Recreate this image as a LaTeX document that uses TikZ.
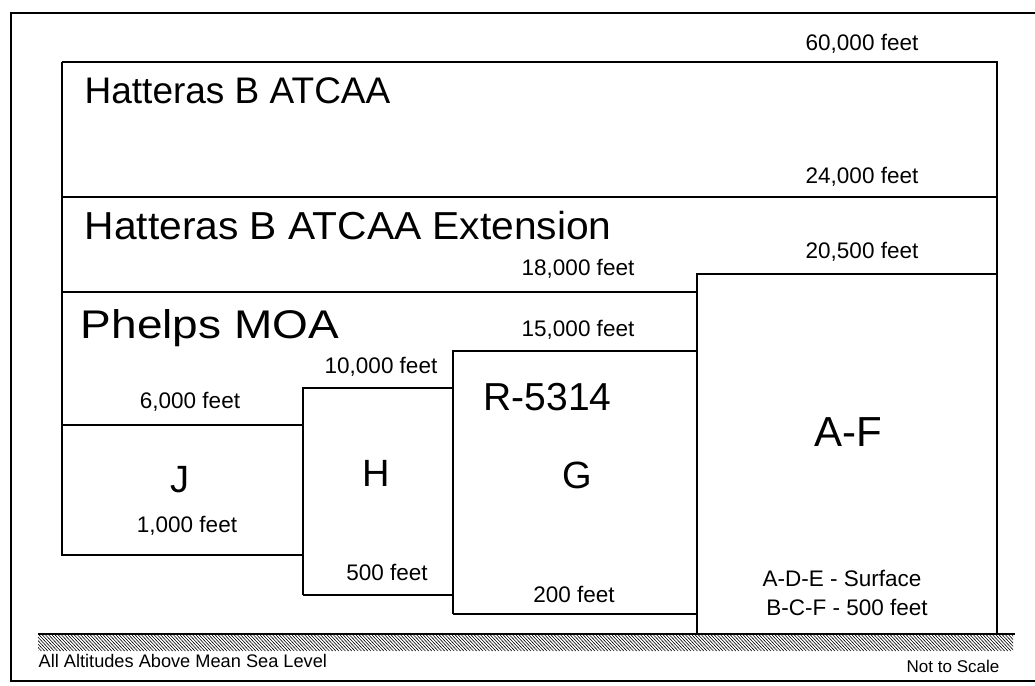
\documentclass[tikz,border=0pt]{standalone}
\usepackage{fontspec}
\setmainfont{Liberation Sans}
\begin{document}
\begin{tikzpicture}[x=1pt,y=-1pt, line width=1.3pt,
  big/.style={font=\fontsize{37}{40}\selectfont, inner sep=0pt, anchor=base west},
  mid/.style={font=\fontsize{38}{40}\selectfont, inner sep=0pt, anchor=base},
  ft/.style={font=\fontsize{22.5}{24}\selectfont, inner sep=0pt, anchor=base},
  note/.style={font=\fontsize{17}{19}\selectfont, inner sep=0pt}]
\useasboundingbox (0,0) rectangle (1035,685);
% outer frame
\draw[line width=1.2pt] (1035,13) -- (11,13) -- (11,681) -- (1035,681);
% airspace outlines
\draw (62,62) -- (997,62) -- (997,634);
\draw (62,62) -- (62,555) -- (303,555);
\draw (62,197) -- (997,197);
\draw (62,292) -- (697,292);
\draw (697,634) -- (697,274) -- (997,274);
\draw (62,425) -- (303,425);
\draw (303,595) -- (303,388) -- (453,388);
\draw (303,595) -- (453,595);
\draw (453,614) -- (453,351) -- (697,351);
\draw (453,614) -- (697,614);
% ground
\begin{scope}
  \clip (38,635) rectangle (1013,651);
  \foreach \x in {20,23.2,...,1020} \draw[line width=0.6pt] (\x,635) -- (\x+15,651);
\end{scope}
\draw[line width=2.4pt] (38,634) -- (1015,634);
% labels
\node[big] (hat) at (84,103) {Hatteras B ATCAA};
\node[big, font=\fontsize{39}{41}\selectfont, xscale=1.045] (ext) at (84,239) {Hatteras B ATCAA Extension};
\node[big, font=\fontsize{40}{42}\selectfont, xscale=1.15] (moa) at (80,338) {Phelps MOA};
\node[big, font=\fontsize{39}{41}\selectfont] (r5314) at (483,410) {R-5314};
\node[mid] (j) at (180,492) {J};
\node[mid] (h) at (376,486) {H};
\node[mid] (g) at (577,488) {G};
\node[mid, font=\fontsize{42}{44}\selectfont] (af) at (848,446) {A-F};
\node[ft] (f60) at (862,51) {60,000 feet};
\node[ft] (f24) at (862,183) {24,000 feet};
\node[ft] (f205) at (862,258) {20,500 feet};
\node[ft] (f18) at (578,275) {18,000 feet};
\node[ft] (f15) at (578,336) {15,000 feet};
\node[ft] (f10) at (381,373) {10,000 feet};
\node[ft] (f6) at (190,408) {6,000 feet};
\node[ft] (f1) at (187,532) {1,000 feet};
\node[ft] (f500) at (387,580) {500 feet};
\node[ft] (f200) at (574,602) {200 feet};
\node[ft] (ade) at (842,586) {A-D-E - Surface};
\node[ft] (bcf) at (847,615) {B-C-F - 500 feet};
\node[note, anchor=base west, font=\fontsize{18.2}{20}\selectfont] (msl) at (38,667) {All Altitudes Above Mean Sea Level};
\node[note, anchor=base] (nts) at (953,672) {Not to Scale};
\end{tikzpicture}
\end{document}
